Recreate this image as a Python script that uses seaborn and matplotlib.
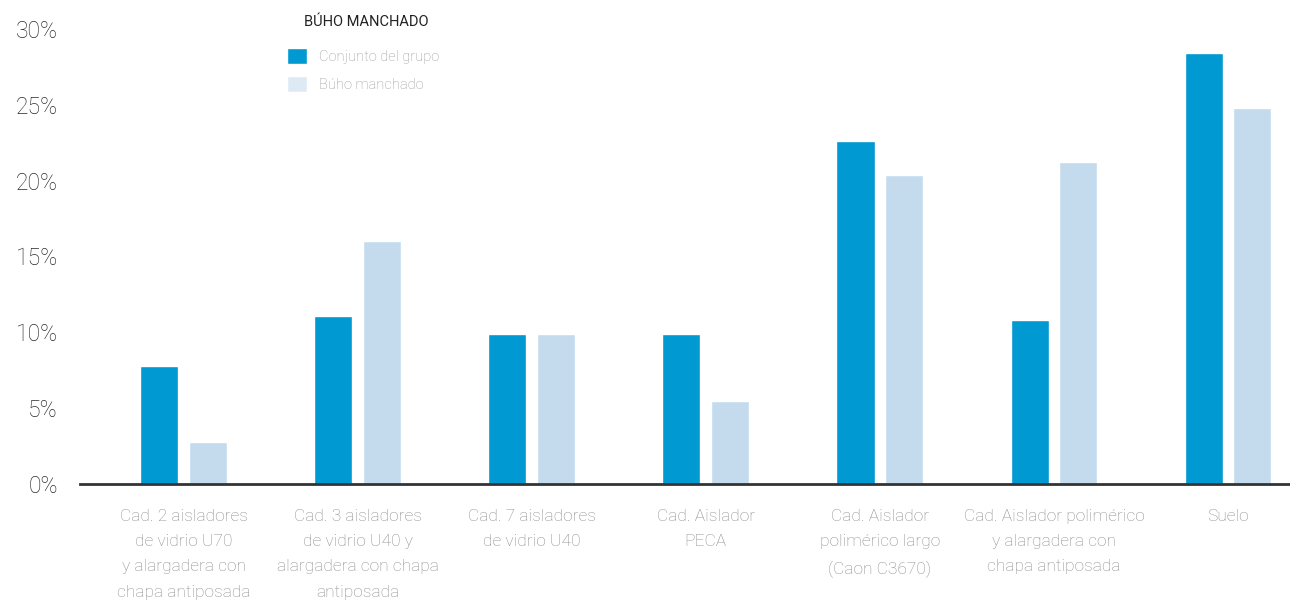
import matplotlib
matplotlib.use("Agg")
import matplotlib.pyplot as plt
import seaborn as sns
import pandas as pd
from matplotlib.ticker import FuncFormatter

categorias = [
    "Cad. 2 aisladores\nde vidrio U70\ny alargadera con\nchapa antiposada",
    "Cad. 3 aisladores\nde vidrio U40 y\nalargadera con chapa\nantiposada",
    "Cad. 7 aisladores\nde vidrio U40",
    "Cad. Aislador\nPECA",
    "Cad. Aislador\npolimérico largo\n(Caon C3670)",
    "Cad. Aislador polimérico\ny alargadera con\nchapa antiposada",
    "Suelo",
]
conjunto_grupo = [7.8, 11.1, 9.9, 9.9, 22.6, 10.8, 28.4]
buho_manchado = [2.8, 16.0, 9.9, 5.5, 20.4, 21.2, 24.8]
series = ["Conjunto del grupo", "Búho manchado"]
titulo_leyenda = "BÚHO MANCHADO"
yticks = [0, 5, 10, 15, 20, 25, 30]

df = pd.DataFrame({
    "categoria": categorias * 2,
    "serie": [series[0]] * len(categorias) + [series[1]] * len(categorias),
    "valor": conjunto_grupo + buho_manchado,
})

sns.set_theme(style="white")
plt.rcParams["font.family"] = ["Roboto", "DejaVu Sans"]

W, H = 1290, 605
fig = plt.figure(figsize=(W / 100, H / 100), dpi=100)
ax = fig.add_axes([80 / W, (H - 484) / H, 1210 / W, (484 - 29) / H])

palette = {series[0]: "#0099d2", series[1]: "#c4dbee"}
sns.barplot(data=df, x="categoria", y="valor", hue="serie", palette=palette,
            width=0.56, gap=0.22, saturation=1, ax=ax, legend=True)

ax.set_xlim(-0.595, 6.356)
ax.set_ylim(0, 30)
ax.set_yticks(yticks)
ax.yaxis.set_major_formatter(FuncFormatter(lambda v, _: f"{v:.0f}%"))
ax.set_xticks(range(len(categorias)), labels=categorias, linespacing=1.85,
              fontweight="light", fontsize=12.5, color="#8c8c8c")
ax.set_xlabel("")
ax.set_ylabel("")

for s in ["top", "right", "left"]:
    ax.spines[s].set_visible(False)
ax.spines["bottom"].set_color("#333333")
ax.spines["bottom"].set_linewidth(2)
ax.spines["bottom"].set_zorder(5)

ax.tick_params(axis="y", length=0, pad=16, labelsize=16.5, labelcolor="#2a2a2a")
ax.tick_params(axis="x", length=0, pad=18)
for lbl in ax.get_yticklabels():
    lbl.set_fontweight("light")

leg = ax.legend(loc="upper left",
                bbox_to_anchor=(287 / W, 1 - 48 / H), bbox_transform=fig.transFigure,
                frameon=False, fontsize=10.5, borderpad=0, borderaxespad=0,
                handlelength=1.35, handleheight=1.35, handletextpad=0.85,
                labelspacing=0.8)
for t in leg.get_texts():
    t.set_color("#9a9a9a")
    t.set_fontweight("light")
leg.legend_handles[1].set_facecolor("#ddeaf6")
fig.text(366 / W, 1 - 22 / H, titulo_leyenda, ha="center", va="center",
         fontsize=10.5, color="#222222")

fig.savefig("out.png", dpi=100)
